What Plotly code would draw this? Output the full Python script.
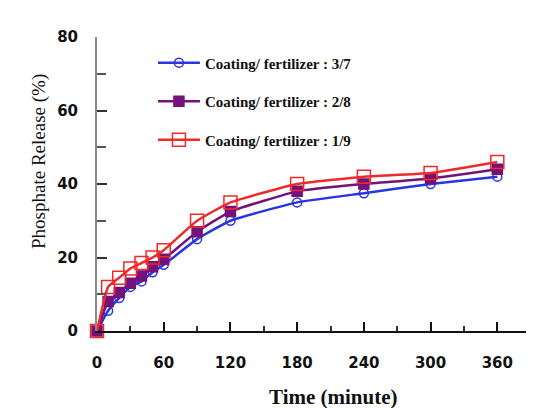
import plotly.graph_objects as go

time_min = [0, 10, 20, 30, 40, 50, 60, 90, 120, 180, 240, 300, 360]
ratio_3_7 = [0, 5.5, 9, 12, 13.5, 16, 18, 25, 30, 35, 37.5, 40, 42]
ratio_2_8 = [0, 8, 10.5, 13, 15, 17.5, 19.5, 27, 32.5, 38, 40, 41.5, 44]
ratio_1_9 = [0, 12, 14.5, 17, 18.5, 20, 22, 30, 35, 40, 42, 43, 46]
names = ["Coating/ fertilizer : 3/7", "Coating/ fertilizer : 2/8", "Coating/ fertilizer : 1/9"]
x_ticks = [0, 60, 120, 180, 240, 300, 360]
y_ticks = [0, 20, 40, 60, 80]

fig = go.Figure()
styles = [
    dict(color="#2a35e0", symbol="circle-open", size=9, lw=2.5),
    dict(color="#74127a", symbol="square", size=10, lw=2.5),
    dict(color="#ee2a2a", symbol="square-open", size=13, lw=2.5),
]
for i, (vals, nm, st) in enumerate(zip([ratio_3_7, ratio_2_8, ratio_1_9], names, styles)):
    fig.add_trace(go.Scatter(
        x=time_min, y=vals, name=nm, mode="lines+markers",
        line=dict(color=st["color"], width=st["lw"], shape="spline", smoothing=0.4),
        marker=dict(symbol=st["symbol"], size=st["size"], color=st["color"],
                    line=dict(color=st["color"], width=1.5)),
        cliponaxis=False, legendgroup=str(i),
    ))

tickfont = dict(family="DejaVu Sans", size=15, color="#111111", weight="bold")
fig.update_layout(
    width=526, height=400,
    margin=dict(l=89, r=0, t=29, b=77),
    paper_bgcolor="white", plot_bgcolor="white",
    showlegend=True,
    legend=dict(x=0.128, y=0.968, xanchor="left", yanchor="top", itemwidth=42,
                font=dict(family="Liberation Serif", size=15, color="#111111", weight="bold"),
                tracegroupgap=16, bgcolor="rgba(0,0,0,0)"),
    xaxis=dict(range=[0, 393], tickvals=x_ticks, ticktext=[str(v) for v in x_ticks],
               ticks="inside", ticklen=9, tickwidth=1.5, tickcolor="#111111",
               minor=dict(dtick=30, ticks="inside", ticklen=5, tickcolor="#333333"),
               showline=True, linecolor="#111111", linewidth=2, showgrid=False,
               zeroline=False, tickfont=tickfont, ticklabelstandoff=17, automargin=False),
    yaxis=dict(range=[0, 80], tickvals=y_ticks, ticktext=[str(v) for v in y_ticks],
               ticks="inside", ticklen=10, tickwidth=1.5, tickcolor="#333333",
               minor=dict(dtick=10, ticks="inside", ticklen=9, tickcolor="#555555"),
               showline=True, linecolor="#8a8a8a", linewidth=2, showgrid=False,
               zeroline=False, tickfont=tickfont, ticklabelstandoff=14, automargin=False),
    annotations=[
        dict(text="Time (minute)", xref="paper", yref="paper", x=0.542, y=-0.224,
             xanchor="center", yanchor="middle", showarrow=False,
             font=dict(family="Liberation Serif", size=21, color="#111111", weight="bold")),
        dict(text="Phosphate Release (%)", xref="paper", yref="paper", x=-0.133, y=0.578,
             xanchor="center", yanchor="middle", showarrow=False, textangle=-90,
             font=dict(family="Liberation Serif", size=19, color="#111111")),
    ],
)
fig.write_html("out.html")
